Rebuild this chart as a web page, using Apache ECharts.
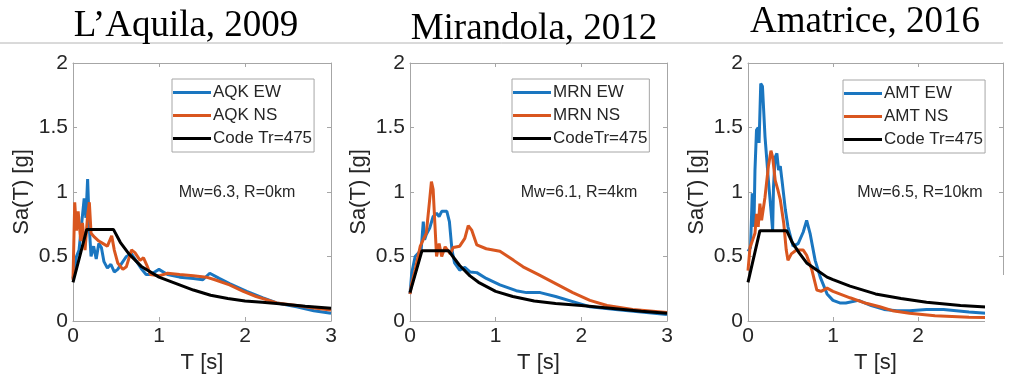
<!DOCTYPE html>
<html>
<head>
<meta charset="utf-8">
<script src="https://cdn.jsdelivr.net/npm/echarts@6/dist/echarts.min.js"></script>
<style>
  html, body { margin: 0; padding: 0; background: #fff; }
  #chart { width: 1020px; height: 379px; }
</style>
</head>
<body>
<div id="chart"></div>
<script>
// titles / labels
const titles = ['L’Aquila, 2009', 'Mirandola, 2012', 'Amatrice, 2016']
const legendNames = [
  ['AQK EW', 'AQK NS', 'Code Tr=475'],
  ['MRN EW', 'MRN NS', 'CodeTr=475'],
  ['AMT EW', 'AMT NS', 'Code Tr=475']
]
const notes = ['Mw=6.3, R=0km', 'Mw=6.1, R=4km', 'Mw=6.5, R=10km']
const xTicks = [0, 1, 2, 3]
const yTicks = [0, 0.5, 1, 1.5, 2]

// spectra [T (s), Sa (g)]
const aqkEW = [[0, 0.33], [0.04, 0.5], [0.07, 0.55], [0.1, 0.75], [0.13, 0.95], [0.15, 0.8], [0.17, 1.1], [0.19, 0.72],
  [0.21, 0.5], [0.24, 0.58], [0.27, 0.48], [0.3, 0.6], [0.33, 0.57], [0.36, 0.46], [0.4, 0.41], [0.44, 0.44], [0.48, 0.38],
  [0.52, 0.4], [0.57, 0.45], [0.62, 0.5], [0.68, 0.52], [0.75, 0.45], [0.8, 0.4], [0.85, 0.36], [0.9, 0.36], [0.95, 0.38],
  [1.0, 0.4], [1.05, 0.38], [1.1, 0.36], [1.24, 0.34], [1.4, 0.33], [1.51, 0.32], [1.59, 0.37], [1.7, 0.33], [1.82, 0.29],
  [2.02, 0.23], [2.21, 0.18], [2.37, 0.14], [2.6, 0.11], [2.8, 0.08], [3.0, 0.06]]
const aqkNS = [[0, 0.32], [0.02, 0.92], [0.04, 0.7], [0.06, 0.85], [0.09, 0.62], [0.11, 0.76], [0.14, 0.55], [0.17, 0.82],
  [0.19, 0.92], [0.21, 0.68], [0.25, 0.65], [0.3, 0.62], [0.35, 0.6], [0.4, 0.58], [0.45, 0.66], [0.48, 0.55], [0.52, 0.45],
  [0.58, 0.4], [0.62, 0.42], [0.68, 0.55], [0.72, 0.53], [0.78, 0.47], [0.82, 0.49], [0.86, 0.43], [0.9, 0.36], [1.0, 0.35],
  [1.1, 0.37], [1.24, 0.36], [1.4, 0.35], [1.55, 0.34], [1.65, 0.32], [1.82, 0.28], [1.98, 0.23], [2.13, 0.19], [2.37, 0.14],
  [2.6, 0.12], [2.8, 0.1], [3.0, 0.085]]
const aqkCode = [[0, 0.3], [0.16, 0.71], [0.47, 0.71], [0.55, 0.61], [0.65, 0.52], [0.8, 0.42], [1.0, 0.34], [1.2, 0.29],
  [1.4, 0.24], [1.6, 0.2], [1.8, 0.175], [2.0, 0.155], [2.2, 0.145], [2.4, 0.133], [2.7, 0.115], [3.0, 0.098]]

const mrnEW = [[0, 0.21], [0.02, 0.37], [0.06, 0.5], [0.13, 0.55], [0.155, 0.77], [0.17, 0.63], [0.19, 0.67], [0.23, 0.72],
  [0.27, 0.81], [0.31, 0.835], [0.34, 0.81], [0.37, 0.85], [0.43, 0.85], [0.46, 0.77], [0.49, 0.55], [0.52, 0.45],
  [0.58, 0.395], [0.64, 0.415], [0.7, 0.38], [0.78, 0.375], [0.89, 0.33], [1.05, 0.28], [1.24, 0.235], [1.36, 0.22],
  [1.52, 0.22], [1.7, 0.19], [1.9, 0.15], [2.1, 0.11], [2.4, 0.09], [2.7, 0.07], [3.0, 0.05]]
const mrnNS = [[0, 0.21], [0.02, 0.29], [0.06, 0.395], [0.12, 0.58], [0.155, 0.63], [0.19, 0.68], [0.225, 0.91],
  [0.25, 1.08], [0.27, 1.02], [0.29, 0.76], [0.31, 0.5], [0.34, 0.6], [0.37, 0.5], [0.41, 0.575], [0.47, 0.52],
  [0.505, 0.57], [0.58, 0.58], [0.64, 0.64], [0.68, 0.74], [0.72, 0.705], [0.78, 0.59], [0.89, 0.56], [1.05, 0.54],
  [1.21, 0.47], [1.32, 0.42], [1.5, 0.36], [1.7, 0.29], [1.9, 0.22], [2.1, 0.16], [2.3, 0.12], [2.6, 0.09], [3.0, 0.065]]
const mrnCode = [[0, 0.22], [0.14, 0.545], [0.45, 0.545], [0.5, 0.5], [0.58, 0.43], [0.7, 0.35], [0.8, 0.3], [1.0, 0.23],
  [1.2, 0.19], [1.45, 0.155], [1.7, 0.135], [2.0, 0.12], [2.4, 0.095], [2.7, 0.075], [3.0, 0.06]]

const amtEW = [[0, 0.54], [0.03, 0.57], [0.05, 0.99], [0.07, 0.73], [0.082, 1.17], [0.1, 1.48], [0.12, 1.5], [0.13, 1.38],
  [0.15, 1.84], [0.17, 1.82], [0.2, 1.43], [0.24, 1.09], [0.27, 0.86], [0.29, 0.7], [0.3, 1.04], [0.32, 1.27], [0.34, 1.3],
  [0.36, 1.17], [0.38, 1.2], [0.4, 1.09], [0.44, 0.86], [0.47, 0.73], [0.53, 0.58], [0.59, 0.6], [0.65, 0.69], [0.69, 0.78],
  [0.73, 0.68], [0.79, 0.47], [0.85, 0.34], [0.93, 0.21], [1.0, 0.16], [1.08, 0.14], [1.15, 0.14], [1.3, 0.16], [1.45, 0.12],
  [1.6, 0.09], [1.75, 0.08], [1.9, 0.08], [2.1, 0.09], [2.3, 0.09], [2.6, 0.07], [3.0, 0.05]]
const amtNS = [[0, 0.39], [0.024, 0.57], [0.082, 0.68], [0.1, 0.83], [0.12, 0.73], [0.14, 0.91], [0.16, 0.78], [0.2, 0.96],
  [0.24, 1.2], [0.27, 1.32], [0.29, 1.27], [0.32, 1.09], [0.35, 1.02], [0.38, 0.94], [0.42, 0.76], [0.45, 0.55],
  [0.47, 0.47], [0.51, 0.52], [0.57, 0.55], [0.65, 0.55], [0.69, 0.51], [0.75, 0.4], [0.81, 0.24], [0.86, 0.23],
  [0.93, 0.255], [1.0, 0.23], [1.2, 0.18], [1.39, 0.137], [1.55, 0.11], [1.7, 0.08], [1.9, 0.06], [2.2, 0.04], [2.6, 0.03],
  [3.0, 0.025]]
const amtCode = [[0, 0.3], [0.14, 0.7], [0.455, 0.7], [0.52, 0.61], [0.6, 0.53], [0.69, 0.45], [0.8, 0.4], [0.93, 0.34],
  [1.0, 0.32], [1.2, 0.27], [1.5, 0.21], [1.8, 0.175], [2.1, 0.145], [2.5, 0.12], [3.0, 0.1]]

const spectra = [[aqkEW, aqkNS, aqkCode], [mrnEW, mrnNS, mrnCode], [amtEW, amtNS, amtCode]]
const colors = ['#1a76c0', '#d9561f', '#000000']

// layout
const grids = [
  { left: 73, top: 63, width: 258, height: 258 },
  { left: 410, top: 63, width: 257, height: 258 },
  { left: 748, top: 63, width: 255, height: 258 }
]
const legendPos = [{ left: 172, top: 79 }, { left: 512, top: 79 }, { left: 843, top: 80 }]
const notePos = [[237, 193], [579, 193], [920, 193]]
const titlePos = [[186, 26], [534, 29], [865, 22]]
const axisGray = '#a6a6a6'
const textGray = '#262626'
const sans = 'Liberation Sans'

const xAxis = []
const yAxis = []
const series = []
const legend = []
const graphic = []

grids.forEach((g, i) => {
  const tick = { show: true, inside: true, length: 4, lineStyle: { color: axisGray } }
  const line = { show: true, lineStyle: { color: axisGray, width: 1 } }
  xAxis.push({
    type: 'value', gridIndex: i, min: xTicks[0], max: xTicks[xTicks.length - 1], interval: 1,
    axisLine: line, axisTick: tick, splitLine: { show: false },
    axisLabel: { color: textGray, fontSize: 21, fontFamily: sans, margin: 5 },
    name: 'T [s]', nameLocation: 'middle', nameGap: 25,
    nameTextStyle: { color: textGray, fontSize: 22, fontFamily: sans }
  })
  yAxis.push({
    type: 'value', gridIndex: i, min: yTicks[0], max: yTicks[yTicks.length - 1], interval: 0.5,
    axisLine: line, axisTick: tick, splitLine: { show: false },
    axisLabel: { color: textGray, fontSize: 21, fontFamily: sans, margin: 5 },
    name: 'Sa(T) [g]', nameLocation: 'middle', nameGap: 40,
    nameTextStyle: { color: textGray, fontSize: 22, fontFamily: sans }
  })
})
// box: top and right axes with inner ticks
grids.forEach((g, i) => {
  const tick = { show: true, inside: true, length: 4, lineStyle: { color: axisGray } }
  const line = { show: true, onZero: false, lineStyle: { color: axisGray, width: 1 } }
  xAxis.push({
    type: 'value', gridIndex: i, position: 'top', min: 0, max: 3, interval: 1,
    axisLine: line, axisTick: tick, axisLabel: { show: false }, splitLine: { show: false }
  })
  yAxis.push({
    type: 'value', gridIndex: i, position: 'right', min: 0, max: 2, interval: 0.5,
    axisLine: line, axisTick: tick, axisLabel: { show: false }, splitLine: { show: false }
  })
})

spectra.forEach((set, i) => {
  set.forEach((data, k) => {
    series.push({
      name: legendNames[i][k],
      type: 'line',
      xAxisIndex: i,
      yAxisIndex: i,
      data: data,
      symbol: 'none',
      smooth: false,
      color: colors[k],
      lineStyle: { color: colors[k], width: 3 },
      silent: true,
      z: 2 + k
    })
  })
  legend.push({
    orient: 'vertical',
    left: legendPos[i].left,
    top: legendPos[i].top,
    data: legendNames[i],
    icon: 'rect',
    itemWidth: 38,
    itemHeight: 3,
    itemGap: 4,
    padding: [4, 2, 4, 1],
    borderColor: axisGray,
    borderWidth: 1,
    backgroundColor: '#fff',
    selectedMode: false,
    textStyle: { color: textGray, fontSize: 17, fontFamily: sans, lineHeight: 19, padding: [0, 0, 0, -3] }
  })
  graphic.push({
    type: 'text', x: notePos[i][0], y: notePos[i][1],
    style: { text: notes[i], fill: textGray, font: '16px "Liberation Sans"', textAlign: 'center', textVerticalAlign: 'middle' }
  })
  graphic.push({
    type: 'text', x: titlePos[i][0], y: titlePos[i][1], z: 10,
    style: { text: titles[i], fill: '#000', font: '37px "Liberation Serif"', textAlign: 'center', textVerticalAlign: 'middle' }
  })
})

// separator line under titles
graphic.push({
  type: 'line', shape: { x1: 0, y1: 43, x2: 1003, y2: 43 },
  style: { stroke: '#b4b4b4', lineWidth: 1 }, z: 5
})
// white patch covering lower right corner of the last panel
graphic.push({
  type: 'rect', shape: { x: 985, y: 275, width: 35, height: 104 },
  style: { fill: '#fff' }, z: 100
})

const myChart = echarts.init(document.getElementById('chart'))
myChart.setOption({
  animation: false,
  backgroundColor: '#fff',
  grid: grids,
  xAxis: xAxis,
  yAxis: yAxis,
  legend: legend,
  series: series,
  graphic: graphic
})
</script>
</body>
</html>
